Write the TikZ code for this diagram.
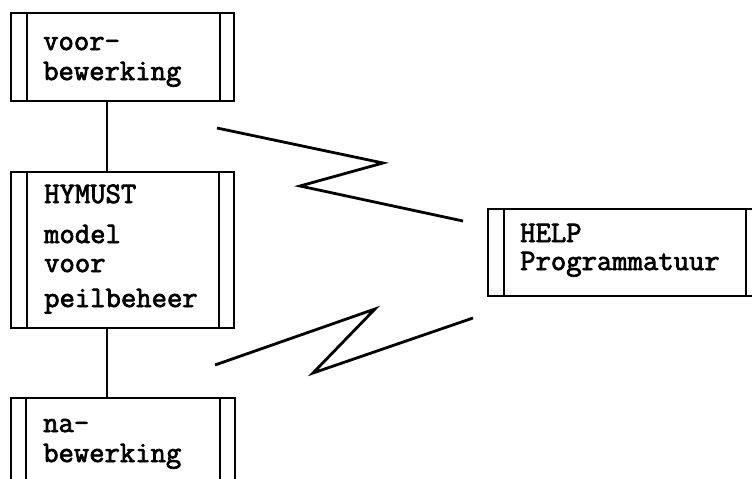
\documentclass[tikz,border=0pt]{standalone}
\usepackage{fontspec}
\setmonofont{Latin Modern Mono}[FakeBold=2.5]
\begin{document}
\begin{tikzpicture}[x=1pt,y=-1pt,
  box/.style={draw,line width=1.8pt,rectangle,inner sep=0pt,minimum width=#1},
  txt/.style={anchor=base west,inner sep=0pt,font=\ttfamily\bfseries\fontsize{29.8}{30}\selectfont},
  zig/.style={line width=2.8pt,line join=miter},
  conn/.style={line width=1.8pt}]
\useasboundingbox (0,0) rectangle (752,479);
\clip (0,0) rectangle (752,479);
% boxes
\node[box=223pt,minimum height=88pt] (b1) at (122.5,57) {};
\node[box=223pt,minimum height=156pt] (b2) at (122.5,250) {};
\node[box=224pt,minimum height=100pt] (b3) at (123,448) {};
\node[box=274pt,minimum height=87pt] (help) at (625,252.5) {};
% inner vertical lines
\draw[conn] (b1.north west) ++(17,0) coordinate (b1l) -- (b1l |- b1.south);
\draw[conn] (b1.north east) ++(-15,0) coordinate (b1r) -- (b1r |- b1.south);
\draw[conn] (b2.north west) ++(17,0) coordinate (b2l) -- (b2l |- b2.south);
\draw[conn] (b2.north east) ++(-16,0) coordinate (b2r) -- (b2r |- b2.south);
\draw[conn] (b3.north west) ++(16,0) coordinate (b3l) -- (b3l |- b3.south);
\draw[conn] (b3.north east) ++(-16,0) coordinate (b3r) -- (b3r |- b3.south);
\draw[conn] (help.north west) ++(17,0) coordinate (hl) -- (hl |- help.south);
\draw[conn] (help.north east) ++(-17,0) coordinate (hr) -- (hr |- help.south);
% connectors
\coordinate (cx) at (107,0);
\draw[conn] (b1.south -| cx) -- (b2.north -| cx);
\draw[conn] (b2.south -| cx) -- (b3.north -| cx);
% zigzags
\coordinate (z1a) at (217,128);
\coordinate (z1b) at (383,163);
\coordinate (z1c) at (300,186);
\coordinate (z1d) at (463,221);
\draw[zig] (z1a) -- (z1b) -- (z1c) -- (z1d);
\coordinate (z2a) at (215,365);
\coordinate (z2b) at (375,309);
\coordinate (z2c) at (313,373);
\coordinate (z2d) at (473,318);
\draw[zig] (z2a) -- (z2b) -- (z2c) -- (z2d);
% texts
\node[txt] (t11) at (43,50) {voor-};
\node[txt] (t12) at (43,80) {bewerking};
\node[txt] (t21) at (44,203) {HYMUST};
\node[txt] (t22) at (44,243) {model};
\node[txt] (t23) at (44,272) {voor};
\node[txt] (t24) at (44,307) {peilbeheer};
\node[txt] (t31) at (43,432) {na-};
\node[txt] (t32) at (43,462) {bewerking};
\node[txt] (t41) at (520,242) {HELP};
\node[txt] (t42) at (520,270) {Programmatuur};
\end{tikzpicture}
\end{document}
